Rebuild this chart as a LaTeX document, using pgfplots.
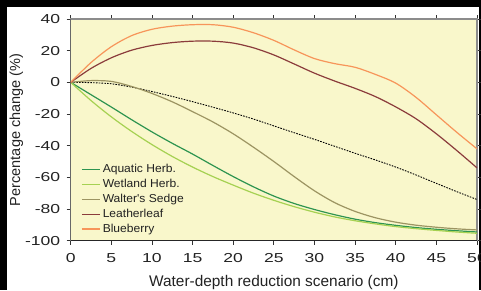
\documentclass[border=0pt]{standalone}
\usepackage{pgfplots}
\pgfplotsset{compat=1.18}
\usepackage{fontspec}
\setmainfont{Liberation Sans}
\newfontfamily\tickfont[FakeStretch=1.35]{Liberation Sans}
\newfontfamily\legfont[FakeStretch=1.05]{Liberation Sans}
\definecolor{bgy}{HTML}{F9F7CB}
\definecolor{aq}{HTML}{2E9450}
\definecolor{wet}{HTML}{A6D152}
\definecolor{walt}{HTML}{9C9462}
\definecolor{leath}{HTML}{8B3C3C}
\definecolor{blue}{HTML}{F7955A}
\definecolor{txt}{HTML}{222222}
\begin{document}
\begin{tikzpicture}[x=1pt,y=1pt]
\useasboundingbox (0,0) rectangle (481,290);
\clip (0,0) rectangle (481,290);
\fill[black] (0,0) rectangle (481,290);
\fill[white] (7,0) rectangle (479,283);
\begin{axis}[
  at={(70.7pt,49.3pt)}, anchor=south west,
  scale only axis, width=406.3pt, height=221.7pt,
  xmin=0, xmax=50, ymin=-100, ymax=40,
  xtick={0,5,...,50}, ytick={-100,-80,...,40},
  axis background/.style={fill=bgy},
  axis line style={draw=gray!90, line width=1.5pt},
  tick align=outside, major tick length=4pt,
  tick style={draw=black!80, line width=0.8pt},
  x tick label style={font={\fontsize{13}{15}\tickfont}, text=txt, yshift=-5pt},
  y tick label style={font={\fontsize{13}{15}\tickfont}, text=txt, xshift=-3pt},
  /pgf/number format/assume math mode=true,
  xlabel={Water-depth reduction scenario (cm)},
  ylabel={Percentage change (\%)},
  label style={text=txt},
  xlabel style={font=\fontsize{15.4}{17}\selectfont, at={(axis description cs:0.5,0)}, anchor=north, yshift=-31pt},
  ylabel style={font=\fontsize{14.5}{16}\selectfont, at={(axis description cs:0,0.5)}, anchor=south, yshift=44pt},
  legend style={at={(0.025,0.353)}, anchor=north west, draw=none, fill=none,
    font={\fontsize{11.5}{13}\legfont}, text=txt, row sep=1.1pt, inner sep=0pt},
  legend cell align=left,
  legend image code/.code={\draw[#1, line width=1.7pt] (0pt,0pt) -- (18pt,0pt);},
  every axis plot/.append style={line width=1.2pt, smooth, tension=0.5},
]
\addplot[black, line width=0.9pt, dash pattern=on 1.6pt off 1.2pt, forget plot] coordinates {
(0,0) (2.5,-0.2) (5,-0.9) (7.5,-3) (10,-5.8) (12.5,-8.9) (15,-12.2) (17.5,-15.7) (20,-19.3) (22.5,-23.2) (25,-27.5) (27.5,-31.8) (30,-36) (32.5,-40.4) (35,-44.8) (37.5,-49) (40,-53.5) (42.5,-58.5) (45,-63.8) (47.5,-69) (50,-74)};
\addplot[aq] coordinates {
(0,0) (2.5,-7.8) (5,-15.6) (7.5,-23.6) (10,-31.3) (12.5,-38.5) (15,-45.3) (17.5,-52.5) (20,-59.5) (22.5,-66) (25,-71.8) (27.5,-76.5) (30,-80.3) (32.5,-83.6) (35,-86.4) (37.5,-88.6) (40,-90.3) (42.5,-91.7) (45,-92.8) (47.5,-93.7) (50,-94.5)};
\addlegendentry{Aquatic Herb.}
\addplot[wet] coordinates {
(0,0) (2.5,-11.5) (5,-21.8) (7.5,-31) (10,-39.3) (12.5,-46.8) (15,-53.5) (17.5,-59.5) (20,-64.9) (22.5,-70) (25,-74.5) (27.5,-78.5) (30,-82) (32.5,-85) (35,-87.4) (37.5,-89.4) (40,-91.1) (42.5,-92.4) (45,-93.5) (47.5,-94.5) (50,-95.3)};
\addlegendentry{Wetland Herb.}
\addplot[walt] coordinates {
(0,0) (2.5,1.1) (5,0.6) (7.5,-2.6) (10,-7) (12.5,-12.3) (15,-18.5) (17.5,-25) (20,-32.5) (22.5,-41) (25,-50) (27.5,-59.5) (30,-68.5) (32.5,-76) (35,-81.5) (37.5,-85.5) (40,-88.3) (42.5,-90.2) (45,-91.5) (47.5,-92.5) (50,-93.2)};
\addlegendentry{Walter's Sedge}
\addplot[leath] coordinates {
(0,0) (2.5,8.8) (5,15.5) (7.5,20.3) (10,23.3) (12.5,25.1) (15,26) (17.5,26) (20,24.8) (22.5,21.8) (25,17.3) (27.5,11.6) (30,5.8) (32.5,0.8) (35,-3.8) (37.5,-9) (40,-15.5) (42.5,-23) (45,-32.5) (47.5,-43) (50,-54)};
\addlegendentry{Leatherleaf}
\addplot[blue] coordinates {
(0,0) (2.5,12.5) (5,22.5) (7.5,29.5) (10,33.5) (12.5,35.5) (15,36.4) (17.5,36.4) (20,34.8) (22.5,31.3) (25,26.5) (27.5,20.5) (30,15) (32.5,11.8) (35,9.5) (37.5,5) (40,-0.5) (42.5,-9.5) (45,-20.5) (47.5,-31.5) (50,-42)};
\addlegendentry{Blueberry}
\draw[black!85, line width=1pt] (rel axis cs:0,1) -- (rel axis cs:0,0) -- (rel axis cs:1,0);
\end{axis}
\end{tikzpicture}
\end{document}
